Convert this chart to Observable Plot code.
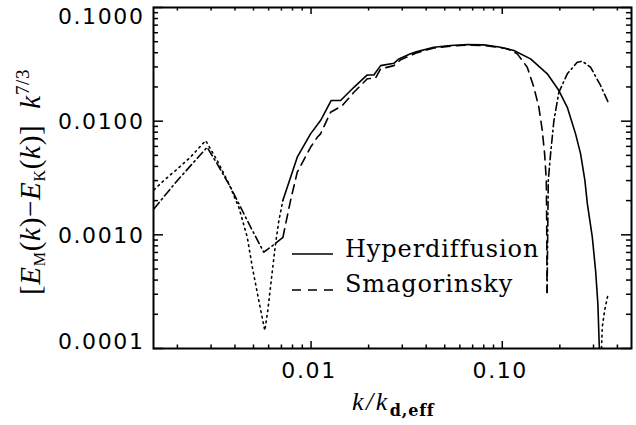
<!DOCTYPE html>
<html><head><meta charset="utf-8">
<script src="https://cdn.jsdelivr.net/npm/d3@7"></script>
<script src="https://cdn.jsdelivr.net/npm/@observablehq/plot@0.6"></script>
<style>
html,body{margin:0;padding:0;background:#fff;}
#chart{width:636px;height:425px;}
</style></head><body><div id="chart"></div>
<script>
// ---------- data ----------
// Hyperdiffusion, positive part (solid)
const hypPosK = [0.00712,0.00847,0.00994,0.01121,0.01275,0.01427,0.01675,0.01968,0.0213,0.0231,0.0271,0.0288,0.0331,0.0359,0.0439,0.0537,0.0656,0.0801,0.0980,0.1150,0.1406,0.1720,0.1977,0.2188,0.2417,0.2568,0.2704,0.2785,0.2957,0.3076,0.3162,0.3217,0.3225];
const hypPosV = [0.00200,0.00482,0.00773,0.01012,0.0152,0.0152,0.01986,0.0255,0.0255,0.0308,0.0323,0.0353,0.0391,0.0409,0.0447,0.0463,0.0472,0.0469,0.0447,0.0418,0.0353,0.0261,0.0186,0.01324,0.00773,0.00515,0.00301,0.00188,0.000953,0.000485,0.000247,0.000103,0.00008];
// Hyperdiffusion, negative part (dotted)
const hypNegLeftK = [0.00151,0.00170,0.00200,0.00234,0.00281,0.00323,0.00372,0.00419,0.00464,0.00493,0.00533,0.00573,0.00594,0.00619,0.00652,0.00679,0.00712];
const hypNegLeftV = [0.00249,0.00301,0.00380,0.00482,0.00675,0.00450,0.00281,0.00175,0.000953,0.000519,0.000264,0.000144,0.000216,0.000396,0.000834,0.00134,0.00200];
const hypNegRightK = [0.3295,0.3334,0.3428,0.3583];
const hypNegRightV = [0.00009,0.000154,0.000216,0.000306];
// Smagorinsky, positive part (dashed)
const smaPosK = [0.00712,0.00781,0.00847,0.00994,0.01078,0.01121,0.01265,0.01456,0.01675,0.01968,0.02175,0.0231,0.0271,0.0294,0.0331,0.0359,0.0439,0.0537,0.0656,0.0801,0.0980,0.1062,0.1198,0.1351,0.1463,0.1554,0.1619,0.1665,0.1700,0.1705,0.1711,0.1715];
const smaPosV = [0.000946,0.00200,0.00356,0.00589,0.00721,0.00773,0.01197,0.01371,0.01795,0.0236,0.0240,0.0288,0.0308,0.0346,0.0378,0.0401,0.0440,0.0458,0.0467,0.0463,0.0443,0.0433,0.0391,0.0298,0.01986,0.01324,0.00826,0.00515,0.00301,0.00164,0.000728,0.000311];
// Smagorinsky, negative part (dash-dot)
const smaNegLeftK = [0.00151,0.00200,0.00286,0.00323,0.00379,0.00419,0.00483,0.00566,0.00614,0.00679,0.00712];
const smaNegLeftV = [0.00170,0.00301,0.00589,0.00421,0.00263,0.00188,0.00117,0.000703,0.000778,0.000891,0.000946];
const smaNegRightK = [0.1715,0.1740,0.1789,0.1862,0.1977,0.2188,0.2467,0.2620,0.2897,0.3266,0.3610];
const smaNegRightV = [0.000311,0.00301,0.00515,0.01012,0.01795,0.0261,0.0330,0.0337,0.0298,0.0206,0.0142];

// ticks and labels
const xDomain = [0.0015, 0.474];
const yDomain = [0.0001, 0.1];
const xMajor = [0.01, 0.1];
const xMajorLabels = ["0.01", "0.10"];
const xMinor = [0.002,0.003,0.004,0.005,0.006,0.007,0.008,0.009,0.02,0.03,0.04,0.05,0.06,0.07,0.08,0.09,0.2,0.3,0.4];
const yMajor = [0.0001, 0.001, 0.01, 0.1];
const yMajorLabels = ["0.0001", "0.0010", "0.0100", "0.1000"];
const yMinor = [0.0002,0.0003,0.0004,0.0005,0.0006,0.0007,0.0008,0.0009,0.002,0.003,0.004,0.005,0.006,0.007,0.008,0.009,0.02,0.03,0.04,0.05,0.06,0.07,0.08,0.09];
const legendLabels = ["Hyperdiffusion", "Smagorinsky"];

// ---------- build ----------
const rows = (K, V) => K.map((k, i) => ({k, v: V[i]}));
const W = 636, H = 425, mL = 153, mR = 5, mT = 7, mB = 77;
const fw = W - mL - mR, fh = H - mT - mB;
const lineOpts = {x: "k", y: "v", stroke: "black", strokeWidth: 1.6, clip: true, strokeLinejoin: "round"};
const yIdx = (vals) => yMajor.map((d, i) => ({d, l: yMajorLabels[i]})).filter(o => vals.includes(o.d));
const yLabelOpts = {y: "d", text: "l", frameAnchor: "left", dx: -9, textAnchor: "end", fontSize: 22, fontFamily: "DejaVu Sans", fill: "black"};

const svg = Plot.plot({
  width: W, height: H,
  marginLeft: mL, marginRight: mR, marginTop: mT, marginBottom: mB,
  style: {background: "white", color: "black", letterSpacing: "1.6px"},
  x: {type: "log", domain: xDomain, axis: null},
  y: {type: "log", domain: yDomain, axis: null},
  marks: [
    // curves
    Plot.line(rows(hypPosK, hypPosV), {...lineOpts}),
    Plot.line(rows(hypNegLeftK, hypNegLeftV), {...lineOpts, strokeDasharray: "1.6,4"}),
    Plot.line(rows(hypNegRightK, hypNegRightV), {...lineOpts, strokeDasharray: "1.6,4"}),
    Plot.line(rows(smaPosK, smaPosV), {...lineOpts, strokeDasharray: "9,6"}),
    Plot.line(rows(smaNegLeftK, smaNegLeftV), {...lineOpts, strokeDasharray: "8,3.5,1.6,3.5"}),
    Plot.line(rows(smaNegRightK, smaNegRightV), {...lineOpts, strokeDasharray: "8,3.5,1.6,3.5"}),
    // ticks: bottom / top
    Plot.ruleX(xMajor, {x: d => d, insetTop: fh - 7, stroke: "black", strokeWidth: 1.5}),
    Plot.ruleX(xMinor, {x: d => d, insetTop: fh - 3.5, stroke: "black", strokeWidth: 1.5}),
    Plot.ruleX(xMajor, {x: d => d, insetBottom: fh - 7, stroke: "black", strokeWidth: 1.5}),
    Plot.ruleX(xMinor, {x: d => d, insetBottom: fh - 3.5, stroke: "black", strokeWidth: 1.5}),
    // ticks: left / right
    Plot.ruleY(yMajor, {y: d => d, insetRight: fw - 10, stroke: "black", strokeWidth: 1.5}),
    Plot.ruleY(yMinor, {y: d => d, insetRight: fw - 5, stroke: "black", strokeWidth: 1.5}),
    Plot.ruleY(yMajor, {y: d => d, insetLeft: fw - 10, stroke: "black", strokeWidth: 1.5}),
    Plot.ruleY(yMinor, {y: d => d, insetLeft: fw - 5, stroke: "black", strokeWidth: 1.5}),
    // tick labels
    Plot.text(xMajor.map((d, i) => ({d, l: xMajorLabels[i]})), {x: "d", text: "l", frameAnchor: "bottom", dy: 29, dx: -2, fontSize: 22, fontFamily: "DejaVu Sans", fill: "black"}),
    Plot.text(yIdx([0.01, 0.001]), {...yLabelOpts, dy: 1}),
    Plot.text(yIdx([0.1]), {...yLabelOpts, dy: 9}),
    Plot.text(yIdx([0.0001]), {...yLabelOpts, dy: -7}),
    Plot.frame({stroke: "black", strokeWidth: 2})
  ]
});
document.getElementById("chart").appendChild(svg);

// ---------- legend & axis titles ----------
const s = d3.select(svg);
const lg = s.append("g").attr("text-anchor", "start");
lg.append("line").attr("x1", 292).attr("x2", 333).attr("y1", 254).attr("y2", 254)
  .attr("stroke", "black").attr("stroke-width", 1.5);
lg.append("line").attr("x1", 292).attr("x2", 333).attr("y1", 290).attr("y2", 290)
  .attr("stroke", "black").attr("stroke-width", 1.5).attr("stroke-dasharray", "9,7");
[257, 292].forEach((y, i) => {
  lg.append("text").attr("x", 345).attr("y", y).attr("text-anchor", "start")
    .attr("font-family", "DejaVu Serif").attr("font-size", 24)
    .style("letter-spacing", "0.9px").attr("fill", "black")
    .text(legendLabels[i]);
});

// x title: k/k_{d,eff}
const xt = s.append("text").attr("x", 352).attr("y", 410).attr("text-anchor", "start")
  .attr("font-family", "Liberation Serif").attr("font-size", 26).attr("fill", "black")
  .style("letter-spacing", "2.5px");
xt.append("tspan").attr("font-style", "italic").text("k/k");
xt.append("tspan").attr("font-family", "DejaVu Serif").attr("font-weight", "bold")
  .attr("font-size", 16).attr("dy", 6).style("letter-spacing", "0.8px").text("d,eff");

// y title: [E_M(k) − E_K(k)]  k^{7/3}
const yt = s.append("text").attr("transform", "translate(40,295) rotate(-90)").attr("text-anchor", "start")
  .attr("font-family", "Liberation Serif").attr("font-size", 29).attr("fill", "black")
  .style("letter-spacing", "0.7px");
yt.append("tspan").text("[");
yt.append("tspan").attr("font-style", "italic").text("E");
yt.append("tspan").attr("font-size", 16).attr("dy", 5).text("M");
yt.append("tspan").attr("dy", -5).text("(");
yt.append("tspan").attr("font-style", "italic").text("k");
yt.append("tspan").text(")\u2212");
yt.append("tspan").attr("font-style", "italic").text("E");
yt.append("tspan").attr("font-size", 16).attr("dy", 5).text("K");
yt.append("tspan").attr("dy", -5).text("(");
yt.append("tspan").attr("font-style", "italic").text("k");
yt.append("tspan").text(")]\u00a0\u00a0");
yt.append("tspan").attr("font-style", "italic").text("k");
yt.append("tspan").attr("font-size", 19).attr("dy", -11).text("7/3");
</script></body></html>
